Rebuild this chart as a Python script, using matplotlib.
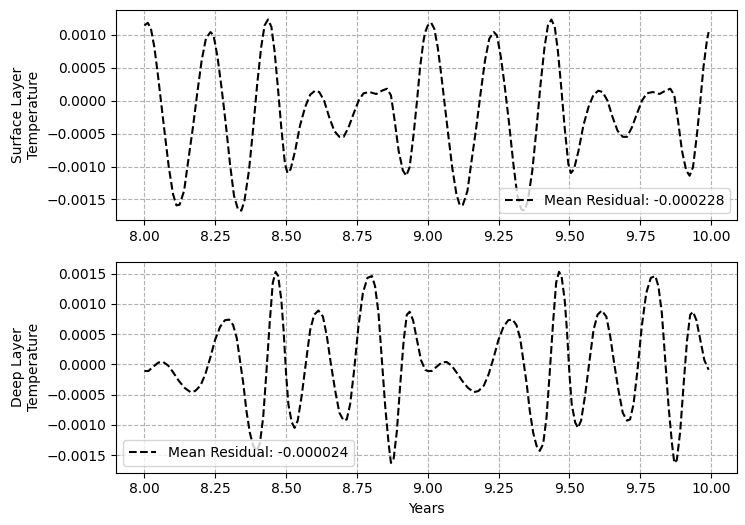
import matplotlib
matplotlib.use("Agg")
import matplotlib.pyplot as plt
import numpy as np

# one year of residuals (pattern repeats each year)
t_cycle = [0.000, 0.012, 0.023, 0.035, 0.047, 0.058, 0.072, 0.086, 0.101, 0.113,
           0.124, 0.140, 0.153, 0.171, 0.186, 0.202, 0.217, 0.233, 0.244, 0.258,
           0.272, 0.287, 0.302, 0.316, 0.330, 0.342, 0.353, 0.369, 0.384, 0.398,
           0.412, 0.424, 0.436, 0.448, 0.459, 0.471, 0.483, 0.496, 0.505, 0.516,
           0.532, 0.549, 0.567, 0.585, 0.602, 0.617, 0.634, 0.652, 0.670, 0.688,
           0.703, 0.720, 0.738, 0.756, 0.773, 0.794, 0.818, 0.838, 0.856, 0.870,
           0.883, 0.897, 0.912, 0.924, 0.936, 0.950, 0.962, 0.973, 0.985, 0.991]
surface_cycle = [0.00114, 0.00118, 0.00109, 0.00081, 0.00041, 0.0, -0.00051, -0.00101, -0.00142, -0.00159,
                 -0.00158, -0.00137, -0.00096, -0.00041, 0.00010, 0.00061, 0.00094, 0.00104, 0.00099, 0.00066,
                 0.00020, -0.00035, -0.00096, -0.00144, -0.00165, -0.00167, -0.00152, -0.00106, -0.00041, 0.00025,
                 0.00081, 0.00114, 0.00123, 0.00112, 0.00076, 0.00020, -0.00041, -0.00096, -0.00110, -0.00104,
                 -0.00076, -0.00038, -0.00010, 0.00009, 0.00015, 0.00013, 0.0, -0.00025, -0.00046, -0.00055,
                 -0.00055, -0.00041, -0.00020, 0.0, 0.00011, 0.00013, 0.00010, 0.00015, 0.00018, 0.00008,
                 -0.00030, -0.00076, -0.00106, -0.00114, -0.00101, -0.00051, 0.0, 0.00051, 0.00091, 0.00104]

t_deep = [0.000, 0.014, 0.031, 0.049, 0.066, 0.084, 0.101, 0.121, 0.142, 0.163,
          0.179, 0.198, 0.215, 0.233, 0.249, 0.267, 0.284, 0.299, 0.313, 0.326,
          0.337, 0.349, 0.360, 0.372, 0.384, 0.395, 0.407, 0.419, 0.430, 0.442,
          0.453, 0.463, 0.472, 0.483, 0.491, 0.500, 0.508, 0.520, 0.530, 0.541,
          0.555, 0.571, 0.585, 0.599, 0.614, 0.630, 0.644, 0.658, 0.673, 0.688,
          0.703, 0.714, 0.726, 0.740, 0.755, 0.771, 0.787, 0.803, 0.814, 0.826,
          0.838, 0.850, 0.862, 0.870, 0.879, 0.891, 0.903, 0.915, 0.926, 0.936,
          0.948, 0.962, 0.976, 0.991]
deep_cycle = [-0.00011, -0.00011, -0.00004, 0.00003, 0.00004, -0.00002, -0.00013, -0.00027, -0.00039, -0.00046,
              -0.00044, -0.00035, -0.00016, 0.00012, 0.00040, 0.00062, 0.00073, 0.00074, 0.00065, 0.00043,
              0.00007, -0.00032, -0.00077, -0.00113, -0.00135, -0.00143, -0.00132, -0.00088, -0.00016, 0.00068,
              0.00135, 0.00153, 0.00146, 0.00107, 0.00057, -0.00016, -0.00066, -0.00096, -0.00105, -0.00093,
              -0.00052, 0.00007, 0.00057, 0.00082, 0.00089, 0.00079, 0.00046, 0.00001, -0.00043, -0.00080,
              -0.00093, -0.00091, -0.00066, -0.00010, 0.00062, 0.00118, 0.00143, 0.00146, 0.00129, 0.00085,
              0.00007, -0.00071, -0.00132, -0.00163, -0.00158, -0.00110, -0.00032, 0.00040, 0.00082, 0.00087,
              0.00073, 0.00040, 0.00007, -0.00009]

start_years = [8.0, 9.0]

years_s = np.concatenate([np.array(t_cycle) + y0 for y0 in start_years])
surface = np.concatenate([surface_cycle for _ in start_years])
years_d = np.concatenate([np.array(t_deep) + y0 for y0 in start_years])
deep = np.concatenate([deep_cycle for _ in start_years])

fig, (ax1, ax2) = plt.subplots(2, 1, figsize=(7.45, 5.25), dpi=100)
fig.subplots_adjust(left=0.156, right=0.989, top=0.981, bottom=0.100, hspace=0.2)

ax1.plot(years_s, surface, 'k--', label='Mean Residual: -0.000228')
ax1.set_ylabel('Surface Layer\nTemperature')
ax1.grid(True, linestyle='--')
ax1.legend(loc='lower right')

ax2.plot(years_d, deep, 'k--', label='Mean Residual: -0.000024')
ax2.set_ylabel('Deep Layer\nTemperature')
ax2.set_xlabel('Years')
ax2.grid(True, linestyle='--')
ax2.legend(loc='lower left')

for ax in (ax1, ax2):
    ax.set_xticks([8.0, 8.25, 8.5, 8.75, 9.0, 9.25, 9.5, 9.75, 10.0])

plt.savefig('out.png', dpi=100)
